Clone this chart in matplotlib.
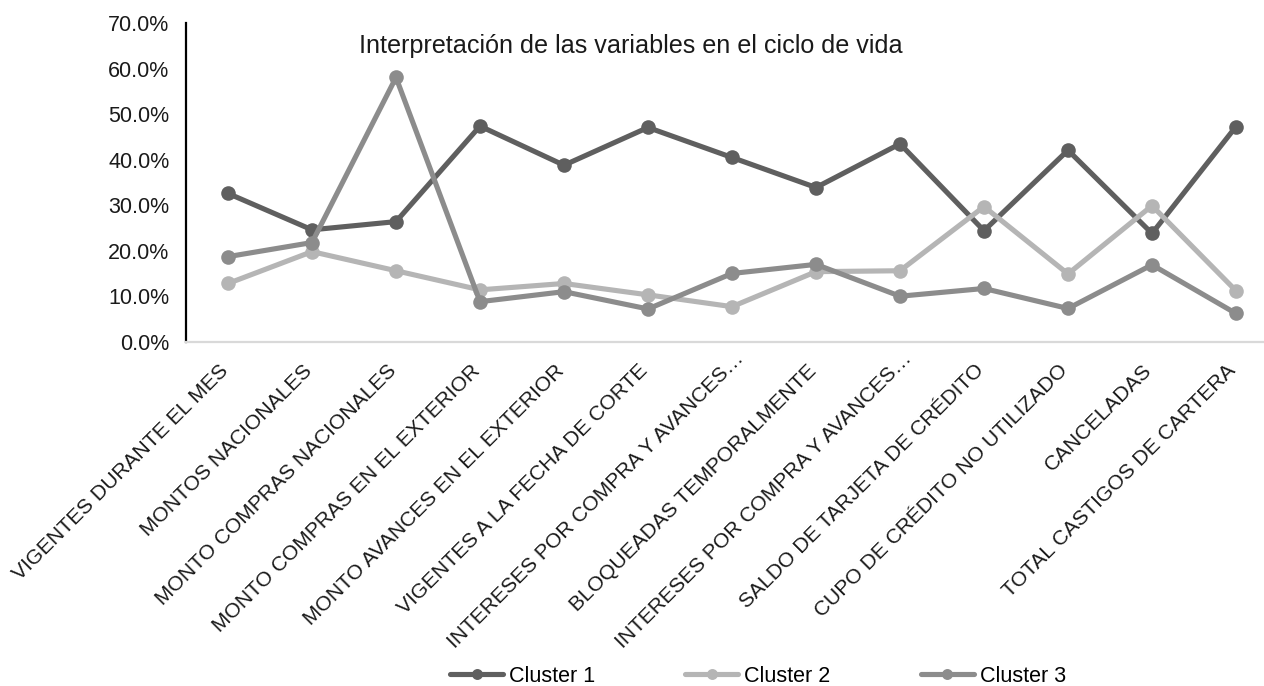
import matplotlib
matplotlib.use("Agg")
import numpy as np
import matplotlib.pyplot as plt
from matplotlib.ticker import PercentFormatter, FixedLocator
from matplotlib.transforms import ScaledTranslation

plt.rcParams['font.family'] = ['Liberation Sans', 'DejaVu Sans']

categories = [
    "VIGENTES DURANTE EL MES",
    "MONTOS NACIONALES",
    "MONTO COMPRAS NACIONALES",
    "MONTO COMPRAS EN EL EXTERIOR",
    "MONTO AVANCES EN EL EXTERIOR",
    "VIGENTES A LA FECHA DE CORTE",
    "INTERESES POR COMPRA Y AVANCES…",
    "BLOQUEADAS TEMPORALMENTE",
    "INTERESES POR COMPRA Y AVANCES…",
    "SALDO DE TARJETA DE CRÉDITO",
    "CUPO DE CRÉDITO NO UTILIZADO",
    "CANCELADAS",
    "TOTAL CASTIGOS DE CARTERA",
]

cluster1 = [32.6, 24.6, 26.4, 47.4, 38.8, 47.1, 40.5, 33.9, 43.5, 24.4, 42.1, 23.8, 47.3]
cluster2 = [12.8, 19.8, 15.6, 11.4, 12.8, 10.3, 7.7, 15.4, 15.6, 29.7, 14.9, 29.9, 11.2]
cluster3 = [18.7, 21.8, 58.1, 8.8, 11.0, 7.2, 15.0, 17.0, 10.0, 11.7, 7.3, 16.9, 6.2]

series_names = ["Cluster 1", "Cluster 2", "Cluster 3"]
series_colors = ["#5f5f5f", "#b5b5b5", "#8c8c8c"]
y_ticks = [0, 10, 20, 30, 40, 50, 60, 70]

W, H = 1264, 686
fig = plt.figure(figsize=(W / 100, H / 100), dpi=100)

left_px, right_px, top_px, bottom_px = 186, 1264, 23.3, 341.7
ax = fig.add_axes([left_px / W, 1 - bottom_px / H,
                   (right_px - left_px) / W, (bottom_px - top_px) / H])

x = list(range(len(categories)))
step_px = 84.0
x_left = -0.5
x_right = x_left + (right_px - left_px) / step_px
ax.set_xlim(x_left, x_right)
ax.set_ylim(0, 70)

for vals, name, col in zip([cluster1, cluster2, cluster3], series_names, series_colors):
    ax.plot(x, vals, color=col, lw=3.7, marker='o', markersize=10.5,
            markeredgewidth=0, label=name, solid_capstyle='round', zorder=3)

# axis styling
for s in ['top', 'right']:
    ax.spines[s].set_visible(False)
ax.spines['left'].set_color('black')
ax.spines['left'].set_linewidth(1.6)
ax.spines['bottom'].set_color('#d9d9d9')
ax.spines['bottom'].set_linewidth(1.6)

text_col = '#1a1a1a'
fs = 15.5
fs_cat = 15.1

ax.yaxis.set_major_locator(FixedLocator(y_ticks))
ax.yaxis.set_major_formatter(PercentFormatter(decimals=1))
ax.tick_params(axis='y', length=0, pad=12, labelsize=fs, labelcolor=text_col)
ax.tick_params(axis='x', length=0)
ax.set_xticks(x)
ax.set_xticklabels([])

# width of a trailing ellipsis, so truncated labels keep their words aligned
renderer = fig.canvas.get_renderer()
probe = fig.text(0, 0, "…", fontsize=fs_cat)
ell_w = probe.get_window_extent(renderer).width
probe.remove()

# rotated category labels, right end anchored under each category
for xi, lab in zip(x, categories):
    shift = ell_w * 0.8 if lab.endswith("…") else 0.0
    d = shift / np.sqrt(2)
    trans = ax.get_xaxis_transform() + ScaledTranslation((-3 + d) / 100, (-26 + d) / 100,
                                                         fig.dpi_scale_trans)
    ax.text(xi, 0, lab, transform=trans,
            rotation=45, rotation_mode='anchor', ha='right', va='center',
            fontsize=fs_cat, color=text_col)

fig.text(631 / W, 1 - 46 / H, "Interpretación de las variables en el ciclo de vida",
         ha='center', va='center', fontsize=18.1, color=text_col)

handles, labels = ax.get_legend_handles_labels()
fig.legend(handles, labels, loc='center', bbox_to_anchor=(758 / W, 1 - 676 / H),
           ncol=3, frameon=False, fontsize=fs, handlelength=2.45,
           handletextpad=0.28, columnspacing=4.2, borderaxespad=0, borderpad=0,
           markerscale=0.75)

fig.savefig("out.png", dpi=100)
